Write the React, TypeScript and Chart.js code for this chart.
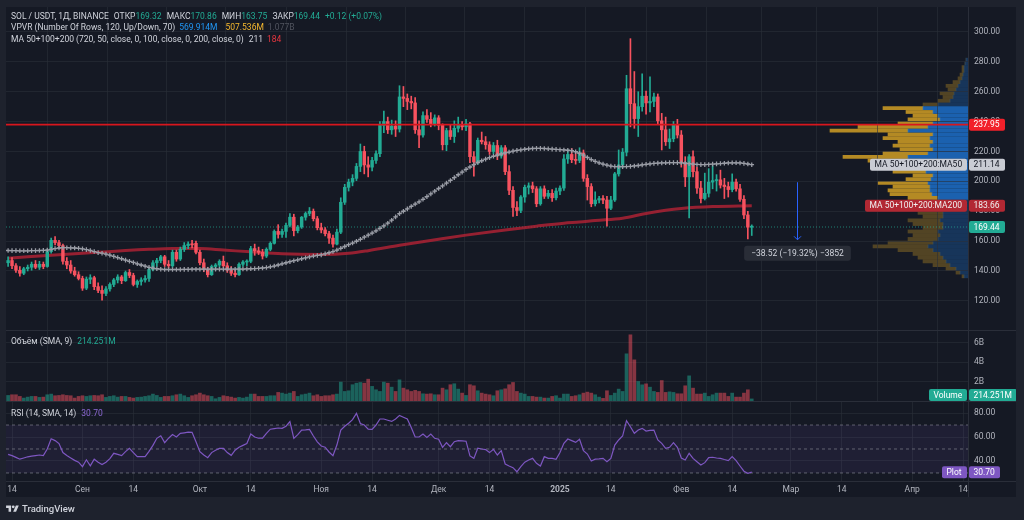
import React, { useEffect, useRef } from "react";
import { Chart, registerables } from "chart.js";

Chart.register(...registerables);

// ---------- DATA (daily candles, index 0 = 13 Aug 2024 ... index 190 = 19 Feb 2025) ----------
const OPEN = [
  145.5, 147.0, 143.5, 140.5, 138.5, 141.5, 142.5, 144.5, 142.5, 144.5,
  143.0, 153.0, 160.5, 159.0, 157.0, 146.5, 144.0, 140.0, 137.5,
  135.0, 128.5, 134.5, 135.5, 129.5, 127.0, 125.0, 128.0, 131.0, 134.0,
  136.0, 133.5, 139.0, 137.0, 131.0, 133.0, 134.0, 135.0, 141.0, 145.5,
  147.0, 149.5, 144.5, 143.5, 152.5, 148.0, 154.5, 157.0, 158.0, 158.5,
  152.5, 145.5, 141.0, 137.5, 143.0, 144.0, 146.5, 143.5, 140.5, 138.5,
  137.5, 144.5, 146.0, 146.5, 155.0, 153.5, 152.5, 150.0, 154.5, 158.5,
  166.5, 164.5, 166.5, 170.5, 176.0, 167.0, 169.5, 176.0, 178.5, 180.0,
  175.0,
  169.0, 167.5, 165.0, 162.0, 158.0, 166.0, 186.0, 196.0, 199.5, 202.0,
  210.0, 220.0, 211.0, 209.5, 214.0, 218.5, 237.5, 240.0, 234.5, 237.0,
  235.0, 256.5, 255.5, 253.5, 252.5, 234.5, 231.0, 244.0, 241.5, 238.0,
  242.5, 237.5, 224.5, 234.0, 230.0, 235.5, 238.0, 236.5, 238.5, 216.5,
  213.0, 227.5, 226.5, 224.5, 220.0, 224.0, 217.0, 222.5, 206.5, 194.0,
  182.5, 180.5, 189.5, 196.0, 197.0, 195.0, 185.0, 195.0, 190.0, 192.0,
  189.0,
  193.5, 195.5, 215.0, 218.0, 214.5, 214.0, 219.0, 202.0, 196.5, 185.0,
  187.5, 188.5, 187.5, 182.0, 187.5, 205.0, 211.0, 219.5, 262.0, 252.0,
  242.0, 250.0, 257.0, 252.5, 253.5, 256.5, 240.5, 234.5, 226.5, 228.5,
  237.5,
  231.0, 212.5, 203.0, 216.5, 206.5, 195.5, 188.5, 192.0, 199.5, 200.5,
  201.0, 197.5, 196.5, 194.5, 199.5, 195.0, 188.0, 177.5, 169.32,
];
const HIGH = [
  149.5, 149.0, 145.0, 143.0, 142.5, 144.0, 146.0, 147.0, 146.5, 146.0,
  154.5, 162.0, 163.0, 160.5, 158.0, 149.0, 147.0, 142.5, 139.5,
  136.5, 136.0, 137.5, 136.5, 132.0, 130.0, 129.5, 132.0, 135.0, 137.5,
  137.0, 140.0, 141.0, 138.5, 134.0, 135.5, 137.0, 142.0, 147.0, 148.5,
  150.5, 150.5, 147.0, 154.0, 154.0, 156.0, 159.0, 159.5, 160.5, 160.0,
  154.0, 148.0, 142.5, 144.0, 145.0, 147.5, 150.0, 145.5, 143.0, 141.0,
  145.5, 147.0, 147.5, 156.5, 158.0, 156.0, 154.5, 155.5, 159.5, 167.5,
  171.0, 168.0, 172.0, 178.5, 178.0, 170.5, 176.5, 179.5, 182.5, 181.5,
  176.5,
  172.0, 169.0, 166.5, 164.0, 168.0, 189.0, 198.0, 201.5, 204.5, 212.0,
  225.0, 223.5, 216.5, 216.0, 220.5, 240.0, 247.0, 243.0, 241.0, 240.5,
  264.0, 263.5, 258.5, 257.0, 256.0, 240.5, 246.5, 248.0, 246.0, 244.5,
  244.0, 238.5, 235.5, 238.0, 240.5, 243.0, 240.0, 241.5, 239.5, 220.0,
  229.0, 233.0, 230.0, 226.5, 226.0, 227.5, 224.0, 224.0, 210.5, 196.5,
  186.5, 190.5, 197.5, 199.0, 199.5, 196.5, 196.5, 197.0, 194.0, 194.5,
  195.5,
  197.0, 218.0, 221.0, 222.0, 219.0, 222.5, 221.0, 204.5, 198.5, 193.0,
  190.0, 190.5, 190.0, 190.0, 206.0, 221.0, 222.0, 271.0, 295.5, 273.5,
  260.0, 272.0, 260.5, 270.0, 259.0, 258.5, 245.5, 243.0, 235.0, 240.0,
  241.5,
  234.0, 216.5, 218.0, 220.5, 209.5, 200.0, 205.5, 208.5, 210.5, 204.5,
  207.5, 202.0, 199.5, 205.0, 201.5, 198.0, 190.5, 180.0, 170.86,
];
const LOW = [
  143.0, 141.5, 139.0, 136.5, 137.5, 140.0, 140.5, 141.5, 141.0, 141.5,
  142.5, 152.0, 157.5, 155.0, 144.5, 141.5, 138.5, 136.5, 134.0,
  127.0, 127.5, 131.5, 127.5, 125.5, 120.5, 123.5, 126.5, 129.5, 132.0,
  131.5, 133.0, 135.5, 130.0, 129.0, 130.5, 132.5, 133.0, 140.0, 143.0,
  145.5, 143.0, 142.0, 142.5, 146.5, 147.0, 153.0, 155.0, 155.5, 151.5,
  144.0, 139.5, 136.0, 137.0, 140.5, 142.5, 142.5, 139.0, 137.0, 136.0,
  137.0, 143.0, 143.5, 145.5, 150.5, 151.0, 148.0, 149.0, 153.5, 158.0,
  162.0, 162.5, 162.5, 169.5, 163.5, 165.5, 168.5, 174.0, 177.0, 173.5,
  167.5,
  165.5, 163.5, 158.5, 156.0, 157.5, 165.0, 184.5, 193.5, 197.0, 200.5,
  206.5, 205.0, 203.0, 207.0, 212.0, 216.5, 232.5, 232.0, 231.5, 230.0,
  233.0, 250.0, 248.0, 248.5, 232.0, 222.5, 229.5, 239.5, 236.5, 237.0,
  234.5, 221.0, 220.5, 228.0, 226.0, 233.0, 234.5, 234.0, 212.5, 203.5,
  211.5, 225.0, 221.5, 218.0, 218.5, 214.5, 215.5, 204.5, 191.0, 176.5,
  177.0, 179.0, 186.0, 191.5, 192.5, 183.0, 184.0, 188.5, 188.5, 186.5,
  187.5,
  191.0, 194.0, 212.0, 212.5, 211.5, 212.5, 200.0, 187.5, 183.0, 183.5,
  185.5, 185.0, 170.0, 181.0, 186.5, 203.5, 209.0, 217.0, 236.5, 235.5,
  230.0, 247.0, 245.0, 246.5, 250.0, 238.5, 221.0, 224.0, 222.0, 226.5,
  229.0,
  209.5, 196.5, 175.5, 203.0, 192.0, 185.5, 187.5, 189.5, 195.0, 193.5,
  195.5, 188.5, 189.5, 193.0, 193.5, 186.5, 175.0, 161.5, 163.75,
];
const CLOSE = [
  147.0, 143.5, 140.5, 138.5, 141.5, 142.5, 144.5, 142.5, 144.5, 143.0,
  153.0, 160.5, 159.0, 157.0, 146.5, 144.0, 140.0, 137.5, 135.0,
  128.5, 134.5, 135.5, 129.5, 127.0, 125.0, 128.0, 131.0, 134.0, 136.0,
  133.5, 139.0, 137.0, 131.0, 133.0, 134.0, 135.0, 141.0, 145.5, 147.0,
  149.5, 144.5, 143.5, 152.5, 148.0, 154.5, 157.0, 158.0, 157.5, 152.5,
  145.5, 141.0, 137.5, 143.0, 144.0, 146.5, 143.5, 140.5, 138.5, 137.5,
  144.5, 146.0, 146.5, 155.0, 153.5, 152.5, 150.0, 154.5, 158.5, 166.5,
  164.5, 166.5, 170.5, 176.0, 167.0, 169.5, 176.0, 178.5, 180.0, 175.0,
  169.0,
  167.5, 165.0, 162.0, 158.0, 166.0, 186.0, 196.0, 199.5, 202.0, 210.0,
  220.0, 211.0, 209.5, 214.0, 218.5, 237.5, 240.0, 234.5, 237.0, 235.0,
  256.5, 255.5, 253.5, 252.5, 234.5, 231.0, 244.0, 241.5, 238.0, 242.5,
  237.5, 224.5, 234.0, 230.0, 235.5, 238.0, 236.5, 238.5, 216.5, 213.0,
  227.5, 226.5, 224.5, 220.0, 224.0, 217.0, 222.5, 206.5, 194.0, 182.5,
  180.5, 189.5, 196.0, 197.0, 195.0, 185.0, 195.0, 190.0, 192.0, 189.0,
  193.5,
  195.5, 215.0, 218.0, 214.5, 214.0, 219.0, 202.0, 196.5, 185.0, 187.5,
  188.5, 187.5, 182.0, 187.5, 205.0, 211.0, 219.5, 262.0, 252.0, 242.0,
  250.0, 257.0, 252.5, 253.5, 256.5, 240.5, 234.5, 226.5, 228.5, 237.5,
  231.0,
  212.5, 203.0, 216.5, 206.5, 195.5, 188.5, 192.0, 199.5, 200.5, 201.0,
  197.5, 196.5, 194.5, 199.5, 195.0, 188.0, 177.5, 169.32, 169.44,
];
// volume in billions of USDT
const VOLUME_B = [
  0.57, 0.64, 0.64, 0.47, 0.30, 0.40, 0.47, 0.47, 0.37, 0.40,
  0.64, 0.71, 0.54, 0.57, 0.64, 0.57, 0.54, 0.30, 0.47, 0.54,
  0.47, 0.54, 0.57, 0.54, 0.64, 0.37, 0.47, 0.54, 0.40, 0.47,
  0.47, 0.37, 0.30, 0.37, 0.40, 0.47, 0.54, 0.71, 0.57, 0.37,
  0.47, 0.47, 0.54, 0.64, 0.71, 0.54, 0.37, 0.54, 0.64, 0.81,
  0.64, 0.54, 0.47, 0.23, 0.37, 0.54, 0.47, 0.40, 0.30, 0.37,
  0.30, 0.40, 0.71, 0.71, 0.47, 0.47, 0.47, 0.54, 0.54, 0.88,
  0.81, 0.71, 0.81, 0.98, 0.47, 0.64, 0.71, 0.81, 0.54, 0.64,
  0.47, 0.54, 0.54, 0.64, 0.71, 1.94, 0.98, 1.05, 1.67, 1.83,
  1.90, 1.83, 2.24, 1.50, 1.15, 0.98, 1.94, 1.83, 1.42, 0.98,
  2.17, 1.32, 1.15, 0.98, 1.09, 0.98, 0.74, 0.71, 0.74, 0.64,
  0.64, 1.32, 1.15, 1.67, 1.77, 1.22, 0.81, 0.57, 1.67, 1.56,
  1.05, 0.81, 0.71, 0.64, 0.54, 1.05, 1.15, 1.25, 1.67, 1.90,
  0.98, 0.81, 0.71, 0.47, 0.47, 0.40, 0.40, 0.30, 0.30, 0.47,
  0.54, 0.30, 0.71, 0.71, 0.47, 0.54, 0.64, 0.81, 0.91, 0.81,
  0.64, 0.40, 0.27, 1.05, 0.57, 0.81, 1.22, 0.98, 4.84, 6.79,
  4.22, 2.00, 1.66, 1.76, 1.42, 0.98, 0.88, 2.10, 0.88, 0.94,
  0.88, 0.74, 0.74, 1.56, 2.58, 1.32, 0.71, 0.71, 0.81, 0.47,
  0.64, 0.81, 0.81, 0.81, 0.47, 0.81, 0.40, 0.40, 0.81, 1.15,
  0.214251,
];
const RSI = [
  45.5, 44.5, 43.0, 41.5, 42.5, 43.5, 44.0, 44.5, 45.0, 44.5,
  50.0, 58.5, 57.0, 54.5, 47.0, 44.5, 42.5, 40.5, 39.0, 35.3,
  41.0, 36.0, 41.5, 39.0, 37.0, 39.0, 42.0, 46.4, 45.5, 44.5,
  47.8, 50.5, 47.0, 43.6, 43.6, 43.6, 48.0, 53.0, 58.9, 61.0,
  55.3, 59.0, 62.0, 60.0, 63.0, 63.5, 64.0, 63.9, 56.0, 47.8,
  45.0, 42.8, 47.0, 49.0, 50.5, 50.5, 47.0, 44.7, 49.0, 51.5,
  53.0, 54.5, 62.5, 60.0, 59.0, 59.0, 63.0, 66.5, 67.0, 67.5,
  67.2, 69.0, 72.8, 58.9, 62.0, 65.8, 66.0, 66.4, 60.8, 56.0,
  52.5, 51.5, 47.5, 44.5, 53.3, 65.8, 69.0, 71.5, 74.5, 79.7,
  71.2, 70.0, 66.5, 66.4, 70.0, 75.0, 75.0, 74.0, 73.0, 75.0,
  78.0, 76.5, 75.0, 68.0, 60.0, 60.0, 62.5, 59.7, 62.5, 58.9,
  58.1, 51.4, 55.3, 51.9, 56.1, 57.0, 56.8, 56.5, 44.2, 42.2,
  50.6, 50.0, 49.5, 47.0, 49.7, 45.0, 48.6, 37.5, 35.8, 34.4,
  31.0, 35.3, 39.0, 40.8, 42.2, 38.1, 35.8, 43.6, 42.2, 42.2,
  41.4, 47.0, 54.7, 58.3, 57.0, 55.5, 58.1, 48.6, 45.8, 40.0,
  41.5, 41.8, 42.2, 39.4, 42.2, 53.3, 57.5, 60.8, 73.6, 68.6,
  63.1, 65.8, 67.2, 65.0, 65.5, 65.8, 57.5, 54.7, 50.6, 51.4,
  55.3, 51.4, 42.5, 40.8, 46.4, 42.2, 39.4, 36.7, 38.6, 42.8,
  43.1, 42.5, 42.2, 41.2, 40.3, 43.6, 40.3, 35.8, 31.5, 29.7,
  30.7,
];
const MA50 = [
  153.7, 153.6, 153.6, 153.5, 153.5, 153.5, 153.6, 153.6, 153.7, 153.8,
  154.0, 154.5, 155.0, 155.4, 155.6, 155.6, 155.5, 155.4, 155.2, 154.8,
  154.3, 153.7, 153.0, 152.3, 151.9, 151.3, 150.6, 149.8, 149.0, 148.2,
  147.3, 146.5, 145.7, 144.8, 144.0, 143.2, 142.4, 141.9, 141.5, 141.2,
  141.0, 141.0, 141.0, 141.0, 141.0, 141.1, 141.1, 141.2, 141.2, 141.2,
  141.2, 141.2, 141.2, 141.2, 141.2, 141.2, 141.2, 141.2, 141.2, 141.3,
  141.3, 141.4, 141.5, 141.6, 141.8, 142.0, 142.3, 142.8, 143.3, 144.0,
  144.8, 145.5, 146.2, 146.9, 147.5, 148.2, 148.8, 149.4, 150.0, 150.4,
  150.8, 151.5, 152.2, 153.0, 154.0, 155.2, 156.4, 157.6, 158.7, 159.9,
  161.2, 162.6, 164.0, 165.4, 166.9, 168.5, 170.2, 172.0, 174.0, 176.2,
  178.4, 180.0, 181.6, 183.2, 184.8, 186.3, 188.0, 189.8, 191.6, 193.4,
  195.2, 197.0, 198.8, 200.6, 202.5, 204.4, 206.2, 208.0, 209.6, 211.2,
  212.6, 213.8, 214.9, 215.9, 216.8, 217.6, 218.3, 219.0, 219.6, 220.2,
  220.7, 221.1, 221.5, 221.8, 222.0, 222.1, 222.1, 222.0, 221.8, 221.6,
  221.4, 221.2, 221.0, 220.8, 220.5, 219.8, 218.8, 217.5, 216.0, 214.6,
  213.4, 212.4, 211.5, 210.8, 210.2, 209.9, 209.8, 209.8, 209.9, 210.0,
  210.3, 210.6, 211.0, 211.4, 211.7, 212.0, 212.2, 212.3, 212.4, 212.5,
  212.5, 212.5, 212.4, 212.1, 211.8, 211.5, 211.3, 211.2, 211.2, 211.3,
  211.5, 211.7, 211.9, 212.1, 212.3, 212.4, 212.4, 212.3, 212.0, 211.6,
  211.14,
];
const MA200_DAYS = [0, 5, 11, 17, 23, 30, 36, 42, 49, 55, 62, 70, 80, 87, 92, 100, 105, 110, 117, 127, 135, 142, 146, 150, 157, 163, 168, 172, 180, 190];
const MA200_VALUES = [148.5, 149.5, 150.5, 151.5, 152.5, 153.7, 154.5, 155.0, 155.0, 154.0, 152.8, 151.5, 151.0, 151.8, 153.6, 157.2, 159.3, 161.3, 164.0, 167.5, 170.0, 172.0, 172.8, 173.8, 175.3, 178.5, 180.6, 181.8, 183.1, 183.66];

// visible-range volume profile (rows of 3 USDT), relative volume
const VP_PRICES = [122, 125, 128, 131, 134, 137, 140, 143, 146, 149, 152, 155, 158, 161, 164, 167, 170, 173, 176, 179, 182, 185, 188, 191, 194, 197, 200, 203, 206, 209, 212, 215, 218, 221, 224, 227, 230, 233, 236, 239, 242, 245, 248, 251, 254, 257, 260, 263, 266, 269, 272, 275, 278, 281, 284, 287, 290, 293, 296];
const VP_UP = [4, 8, 12, 18, 22, 25, 28, 35, 40, 35, 30, 28, 30, 25, 25, 28, 25, 25, 20, 15, 18, 30, 36, 38, 38, 40, 37, 35, 42, 40, 45, 48, 60, 40, 35, 38, 35, 38, 35, 60, 40, 35, 28, 30, 35, 45, 30, 18, 15, 14, 12, 10, 8, 6, 5, 4, 4, 3, 2];
const VP_DOWN = [2, 4, 10, 17, 23, 25, 27, 35, 55, 45, 30, 27, 30, 20, 30, 32, 20, 25, 20, 15, 17, 30, 42, 42, 37, 50, 25, 20, 33, 20, 45, 52, 65, 45, 33, 37, 35, 47, 45, 78, 70, 35, 32, 25, 27, 40, 15, 12, 10, 14, 8, 12, 7, 4, 3, 2, 2, 0, 0];
const VA_LOW = 184;
const VA_HIGH = 259;
const VP_SCALE_MAX = 962;
const VP_TOTALS = ["569.914M", "507.536M", "1.077B"];

// date axis
const TICK_DAYS = [1, 19, 32, 49, 62, 80, 93, 110, 123, 141, 154, 172, 185, 200, 213, 231, 244];
const TICK_LABELS = ["14", "Сен", "14", "Окт", "14", "Ноя", "14", "Дек", "14", "2025", "14", "Фев", "14", "Мар", "14", "Апр", "14"];
const PRICE_TICKS = [120, 140, 160, 180, 200, 220, 240, 260, 280, 300];
const VOLUME_TICKS = [2, 4, 6];
const RSI_TICKS = [40, 60, 80];
const RSI_BANDS = [70, 50, 30];

const LEVEL_PRICE = 237.95;
const MEASURE_DAY = 201.6;
const MEASURE_FROM = 199.4;
const MEASURE_TO = 160.88;
const MEASURE_TEXT = "−38.52 (−19.32%) −3852";

// ---------- STYLE ----------
const FONT = "Roboto, 'Noto Sans', 'DejaVu Sans', sans-serif";
const TEXT = "#d1d4dc";
const AXIS_TEXT = "#b2b5be";
const GRID = "rgba(42,46,57,0.6)";
const PANE_BG = "#151924";
const FRAME_BG = "#1e222d";
const SEP = "#2a2e39";
const UP = "#22ab94";
const DOWN = "#f7525f";
const UP_VOL = "rgba(34,171,148,0.5)";
const DOWN_VOL = "rgba(247,82,95,0.5)";
const LEVEL_COLOR = "#d8161d";
const MA200_COLOR = "rgba(178,34,52,0.82)";
const RSI_COLOR = "#7e57c2";
const FS = 8.5;

const X_MIN = -0.54;
const X_MAX = 245.25;
const PRICE_MIN = 100.5;
const PRICE_MAX = 316.7;
const VOL_MAX = 7.18;
const RSI_MIN = 23.3;
const RSI_MAX = 89.2;

const LAY = { left: 6, width: 1010, axisW: 48, mainTop: 7, mainH: 323, volTop: 331, volH: 70, rsiTop: 402, rsiH: 95, dateH: 16 };

const LAST = CLOSE.length - 1;

function xScale(showLabels: boolean): any {
  return {
    type: "linear",
    min: X_MIN,
    max: X_MAX,
    offset: false,
    afterBuildTicks: (s: any) => {
      s.ticks = TICK_DAYS.map((v) => ({ value: v }));
    },
    grid: { color: GRID, drawTicks: false },
    border: { display: false },
    ticks: showLabels
      ? {
          autoSkip: false,
          maxRotation: 0,
          padding: 4,
          color: AXIS_TEXT,
          font: (c: any) => ({
            family: FONT,
            size: FS,
            weight: c.tick && TICK_LABELS[TICK_DAYS.indexOf(c.tick.value)] === "2025" ? "bold" : "normal",
          }),
          callback: (v: any) => TICK_LABELS[TICK_DAYS.indexOf(Number(v))] ?? "",
        }
      : { display: false },
    afterFit: (s: any) => {
      s.height = showLabels ? LAY.dateH : 0;
      s.paddingLeft = 0;
      s.paddingRight = 0;
    },
  };
}

function yScale(min: number, max: number, ticks: number[], fmt: (v: number) => string): any {
  return {
    type: "linear",
    position: "right",
    min,
    max,
    afterBuildTicks: (s: any) => {
      s.ticks = ticks.map((v) => ({ value: v }));
    },
    grid: { color: GRID, drawTicks: false },
    border: { display: false },
    ticks: { color: AXIS_TEXT, font: { family: FONT, size: FS }, padding: 6, callback: (v: any) => fmt(Number(v)) },
    afterFit: (s: any) => {
      s.width = LAY.axisW;
      s.paddingTop = 0;
      s.paddingBottom = 0;
    },
  };
}

function baseOptions(scales: any, extra: any = {}): any {
  return {
    responsive: false,
    maintainAspectRatio: false,
    animation: false,
    events: [],
    layout: { padding: 0, autoPadding: false },
    plugins: { legend: { display: false }, tooltip: { enabled: false } },
    scales,
    ...extra,
  };
}

function drawTag(ctx: CanvasRenderingContext2D, x: number, yMid: number, text: string, bg: string, fg: string, anchor: "left" | "right") {
  ctx.font = `${FS}px ${FONT}`;
  const w = Math.ceil(ctx.measureText(text).width) + 9;
  const h = 12;
  const x0 = anchor === "left" ? x : x - w;
  ctx.fillStyle = bg;
  ctx.beginPath();
  if ((ctx as any).roundRect) (ctx as any).roundRect(x0, yMid - h / 2, w, h, 2);
  else ctx.rect(x0, yMid - h / 2, w, h);
  ctx.fill();
  ctx.fillStyle = fg;
  ctx.textAlign = "left";
  ctx.textBaseline = "middle";
  ctx.fillText(text, x0 + 4.5, yMid + 0.5);
}

export default function App() {
  const vpRef = useRef<HTMLCanvasElement>(null);
  const mainRef = useRef<HTMLCanvasElement>(null);
  const volRef = useRef<HTMLCanvasElement>(null);
  const rsiRef = useRef<HTMLCanvasElement>(null);

  useEffect(() => {
    Chart.defaults.font.family = FONT;
    const charts: Chart[] = [];
    const candleColors = CLOSE.map((c, i) => (c >= OPEN[i] ? UP : DOWN));
    const volColors = CLOSE.map((c, i) => (c >= OPEN[i] ? UP_VOL : DOWN_VOL));

    // ---- volume profile (drawn underneath the price pane) ----
    const inVA = (c: any) => {
      const p = VP_PRICES[c.dataIndex];
      return p >= VA_LOW && p <= VA_HIGH;
    };
    charts.push(
      new Chart(vpRef.current as HTMLCanvasElement, {
        type: "bar",
        data: {
          datasets: [
            {
              data: VP_PRICES.map((p, i) => ({ x: VP_UP[i], y: p })),
              backgroundColor: (c: any) => (inVA(c) ? "rgba(30,118,214,0.78)" : "rgba(30,118,214,0.3)"),
              barThickness: 3.1,
              stack: "vp",
            },
            {
              data: VP_PRICES.map((p, i) => ({ x: VP_DOWN[i], y: p })),
              backgroundColor: (c: any) => (inVA(c) ? "rgba(226,170,36,0.78)" : "rgba(226,170,36,0.3)"),
              barThickness: 3.1,
              stack: "vp",
            },
          ],
        } as any,
        options: baseOptions(
          {
            x: { type: "linear", min: 0, max: VP_SCALE_MAX, reverse: true, stacked: true, display: false },
            y: { type: "linear", min: PRICE_MIN, max: PRICE_MAX, stacked: true, display: false },
          },
          { indexAxis: "y" }
        ),
      })
    );

    // ---- main price pane ----
    const mainOverlay = {
      id: "mainOverlay",
      afterDraw(chart: any) {
        const { ctx, chartArea } = chart;
        const x = chart.scales.x;
        const y = chart.scales.y;
        ctx.save();
        // measurement arrow
        const ax = Math.round(x.getPixelForValue(MEASURE_DAY)) + 0.5;
        const y1 = y.getPixelForValue(MEASURE_FROM);
        const y2 = y.getPixelForValue(MEASURE_TO);
        ctx.strokeStyle = "#2962ff";
        ctx.lineWidth = 1;
        ctx.beginPath();
        ctx.moveTo(ax, y1);
        ctx.lineTo(ax, y2);
        ctx.stroke();
        ctx.beginPath();
        ctx.moveTo(ax - 3.5, y2 - 3.5);
        ctx.lineTo(ax, y2);
        ctx.lineTo(ax + 3.5, y2 - 3.5);
        ctx.stroke();
        ctx.font = `${FS}px ${FONT}`;
        const tw = ctx.measureText(MEASURE_TEXT).width;
        const bw = tw + 14;
        const bh = 15;
        const by = y2 + 6;
        ctx.fillStyle = "rgba(42,46,57,0.95)";
        ctx.beginPath();
        if (ctx.roundRect) ctx.roundRect(ax - bw / 2, by, bw, bh, 3);
        else ctx.rect(ax - bw / 2, by, bw, bh);
        ctx.fill();
        ctx.fillStyle = TEXT;
        ctx.textAlign = "center";
        ctx.textBaseline = "middle";
        ctx.fillText(MEASURE_TEXT, ax, by + bh / 2 + 0.5);
        // price-scale tags
        const r = chartArea.right;
        const lastMa50 = MA50[MA50.length - 1];
        const lastMa200 = MA200_VALUES[MA200_VALUES.length - 1];
        drawTag(ctx, r + 1, y.getPixelForValue(LEVEL_PRICE), LEVEL_PRICE.toFixed(2), "#f2202a", "#ffffff", "left");
        drawTag(ctx, r - 1, y.getPixelForValue(lastMa50), "MA 50+100+200:MA50", "#c9ccd4", "#131722", "right");
        drawTag(ctx, r + 1, y.getPixelForValue(lastMa50), lastMa50.toFixed(2), "#c9ccd4", "#131722", "left");
        drawTag(ctx, r - 1, y.getPixelForValue(lastMa200), "MA 50+100+200:MA200", "#b22833", "#f0f0f0", "right");
        drawTag(ctx, r + 1, y.getPixelForValue(lastMa200), lastMa200.toFixed(2), "#b22833", "#f0f0f0", "left");
        drawTag(ctx, r + 1, y.getPixelForValue(CLOSE[LAST]), CLOSE[LAST].toFixed(2), UP, "#ffffff", "left");
        ctx.restore();
      },
    };

    charts.push(
      new Chart(mainRef.current as HTMLCanvasElement, {
        type: "bar",
        data: {
          datasets: [
            {
              type: "line",
              data: [
                { x: X_MIN, y: LEVEL_PRICE },
                { x: X_MAX, y: LEVEL_PRICE },
              ],
              borderColor: LEVEL_COLOR,
              borderWidth: 1.6,
              pointRadius: 0,
              order: 0,
            },
            {
              type: "line",
              data: MA50.map((v, i) => ({ x: i, y: v })),
              borderColor: "rgba(149,152,161,0.75)",
              borderWidth: 1,
              pointStyle: "cross",
              pointRadius: 2.3,
              pointBorderWidth: 1.3,
              pointBorderColor: "#9a9da6",
              pointBackgroundColor: "#9a9da6",
              order: 1,
            },
            {
              type: "bar",
              data: OPEN.map((o, i) => ({ x: i, y: [o, CLOSE[i]] })),
              backgroundColor: candleColors,
              barThickness: 2.8,
              minBarLength: 1,
              grouped: false,
              borderWidth: 0,
              order: 2,
            },
            {
              type: "bar",
              data: LOW.map((l, i) => ({ x: i, y: [l, HIGH[i]] })),
              backgroundColor: candleColors,
              barThickness: 1,
              grouped: false,
              borderWidth: 0,
              order: 3,
            },
            {
              type: "line",
              data: MA200_DAYS.map((d, k) => ({ x: d, y: MA200_VALUES[k] })),
              borderColor: MA200_COLOR,
              borderWidth: 3,
              pointRadius: 0,
              cubicInterpolationMode: "monotone",
              order: 4,
            },
            {
              type: "line",
              data: [
                { x: X_MIN, y: CLOSE[LAST] },
                { x: X_MAX, y: CLOSE[LAST] },
              ],
              borderColor: "rgba(34,171,148,0.7)",
              borderWidth: 1,
              borderDash: [1, 2],
              pointRadius: 0,
              order: 5,
            },
          ],
        } as any,
        options: baseOptions({
          x: xScale(false),
          y: yScale(PRICE_MIN, PRICE_MAX, PRICE_TICKS, (v) => v.toFixed(2)),
        }),
        plugins: [mainOverlay],
      })
    );

    // ---- volume pane ----
    const volOverlay = {
      id: "volOverlay",
      afterDraw(chart: any) {
        const { ctx, chartArea } = chart;
        ctx.save();
        const yMid = chartArea.bottom - 6;
        drawTag(ctx, chartArea.right - 1, yMid, "Volume", UP, "#ffffff", "right");
        drawTag(ctx, chartArea.right + 1, yMid, (VOLUME_B[LAST] * 1000).toFixed(3) + "M", UP, "#ffffff", "left");
        ctx.restore();
      },
    };
    charts.push(
      new Chart(volRef.current as HTMLCanvasElement, {
        type: "bar",
        data: {
          datasets: [
            {
              data: VOLUME_B.map((v, i) => ({ x: i, y: v })),
              backgroundColor: volColors,
              barThickness: 3,
              grouped: false,
              borderWidth: 0,
            },
          ],
        } as any,
        options: baseOptions({
          x: xScale(false),
          y: yScale(0, VOL_MAX, VOLUME_TICKS, (v) => `${v}B`),
        }),
        plugins: [volOverlay],
      })
    );

    // ---- RSI pane ----
    const rsiOverlay = {
      id: "rsiOverlay",
      afterDraw(chart: any) {
        const { ctx, chartArea } = chart;
        const y = chart.scales.y;
        ctx.save();
        const yMid = y.getPixelForValue(RSI[LAST]);
        drawTag(ctx, chartArea.right - 1, yMid, "Plot", RSI_COLOR, "#ffffff", "right");
        drawTag(ctx, chartArea.right + 1, yMid, RSI[LAST].toFixed(2), RSI_COLOR, "#ffffff", "left");
        ctx.restore();
      },
    };
    const bandLine = (v: number, extra: any = {}) => ({
      type: "line",
      data: [
        { x: X_MIN, y: v },
        { x: X_MAX, y: v },
      ],
      borderColor: "rgba(120,123,134,0.75)",
      borderWidth: 1,
      borderDash: [3, 3],
      pointRadius: 0,
      ...extra,
    });
    charts.push(
      new Chart(rsiRef.current as HTMLCanvasElement, {
        type: "line",
        data: {
          datasets: [
            bandLine(RSI_BANDS[0], { order: 3 }),
            bandLine(RSI_BANDS[2], { order: 2, fill: "-1", backgroundColor: "rgba(126,87,194,0.1)" }),
            bandLine(RSI_BANDS[1], { order: 1 }),
            {
              type: "line",
              data: RSI.map((v, i) => ({ x: i, y: v })),
              borderColor: RSI_COLOR,
              borderWidth: 1.2,
              pointRadius: 0,
              order: 0,
            },
          ],
        } as any,
        options: baseOptions({
          x: xScale(true),
          y: yScale(RSI_MIN, RSI_MAX, RSI_TICKS, (v) => v.toFixed(2)),
        }),
        plugins: [rsiOverlay],
      })
    );

    return () => {
      charts.forEach((c) => c.destroy());
    };
  }, []);

  const abs: React.CSSProperties = { position: "absolute" };
  const hdr: React.CSSProperties = {
    position: "absolute",
    left: 11,
    fontSize: FS,
    lineHeight: "11px",
    color: TEXT,
    whiteSpace: "pre",
    fontFamily: FONT,
  };
  const gap = (px: number): React.CSSProperties => ({ marginLeft: px });
  const change = CLOSE[LAST] - OPEN[LAST];
  const changePct = (change / OPEN[LAST]) * 100;
  const sign = change >= 0 ? "+" : "−";

  return (
    <div style={{ position: "fixed", left: 0, top: 0, width: 1024, height: 520, background: FRAME_BG, overflow: "hidden", fontFamily: FONT }}>
      <div style={{ ...abs, left: LAY.left, top: LAY.mainTop, width: LAY.width, height: 490, background: PANE_BG }} />
      <canvas
        ref={vpRef}
        width={LAY.width - LAY.axisW}
        height={LAY.mainH}
        style={{ ...abs, left: LAY.left, top: LAY.mainTop, width: LAY.width - LAY.axisW, height: LAY.mainH }}
      />
      <canvas ref={mainRef} width={LAY.width} height={LAY.mainH} style={{ ...abs, left: LAY.left, top: LAY.mainTop, width: LAY.width, height: LAY.mainH }} />
      <canvas ref={volRef} width={LAY.width} height={LAY.volH} style={{ ...abs, left: LAY.left, top: LAY.volTop, width: LAY.width, height: LAY.volH }} />
      <canvas ref={rsiRef} width={LAY.width} height={LAY.rsiH} style={{ ...abs, left: LAY.left, top: LAY.rsiTop, width: LAY.width, height: LAY.rsiH }} />

      {/* pane separators */}
      <div style={{ ...abs, left: LAY.left, top: 330, width: LAY.width, height: 1, background: SEP }} />
      <div style={{ ...abs, left: LAY.left, top: 401, width: LAY.width, height: 1, background: SEP }} />
      <div style={{ ...abs, left: LAY.left, top: 481, width: LAY.width, height: 1, background: SEP }} />
      <div style={{ ...abs, left: 968, top: LAY.mainTop, width: 1, height: 490, background: SEP }} />

      {/* legends */}
      <div style={{ ...hdr, top: 11 }}>
        <span>SOL / USDT, 1Д, BINANCE</span>
        <span style={gap(5)}>ОТКР</span>
        <span style={{ color: UP }}>{OPEN[LAST].toFixed(2)}</span>
        <span style={gap(5)}>МАКС</span>
        <span style={{ color: UP }}>{HIGH[LAST].toFixed(2)}</span>
        <span style={gap(5)}>МИН</span>
        <span style={{ color: UP }}>{LOW[LAST].toFixed(2)}</span>
        <span style={gap(5)}>ЗАКР</span>
        <span style={{ color: UP }}>{CLOSE[LAST].toFixed(2)}</span>
        <span style={{ ...gap(5), color: UP }}>{`${sign}${Math.abs(change).toFixed(2)} (${sign}${Math.abs(changePct).toFixed(2)}%)`}</span>
      </div>
      <div style={{ ...hdr, top: 22 }}>
        <span>VPVR (Number Of Rows, 120, Up/Down, 70)</span>
        <span style={{ ...gap(4), color: "#2196f3" }}>{VP_TOTALS[0]}</span>
        <span style={{ ...gap(8), color: "#f5b82e" }}>{VP_TOTALS[1]}</span>
        <span style={{ ...gap(4), color: "#50535e" }}>{VP_TOTALS[2]}</span>
      </div>
      <div style={{ ...hdr, top: 33.5 }}>
        <span>MA 50+100+200 (720, 50, close, 0, 100, close, 0, 200, close, 0)</span>
        <span style={{ ...gap(5), color: TEXT }}>{Math.round(MA50[MA50.length - 1])}</span>
        <span style={{ ...gap(4), color: "#e5363f" }}>{Math.round(MA200_VALUES[MA200_VALUES.length - 1])}</span>
      </div>
      <div style={{ ...hdr, top: 335.5 }}>
        <span>Объём (SMA, 9)</span>
        <span style={{ ...gap(5), color: UP }}>{(VOLUME_B[LAST] * 1000).toFixed(3) + "M"}</span>
      </div>
      <div style={{ ...hdr, top: 407.5 }}>
        <span>RSI (14, SMA, 14)</span>
        <span style={{ ...gap(5), color: "#8e6ad6" }}>{RSI[LAST].toFixed(2)}</span>
      </div>

      {/* footer */}
      <div style={{ ...abs, left: 6, top: 503, display: "flex", alignItems: "center", gap: 3, color: TEXT }}>
        <svg width="13" height="10" viewBox="0 0 36 28">
          <path d="M14 22H7V11H0V4h14v18z" fill={TEXT} />
          <circle cx="20" cy="8" r="4" fill={TEXT} />
          <path d="M28 22h-8l7.5-18h8L28 22z" fill={TEXT} />
        </svg>
        <span style={{ fontSize: 9.5, fontWeight: 500, lineHeight: "12px" }}>TradingView</span>
      </div>
    </div>
  );
}
